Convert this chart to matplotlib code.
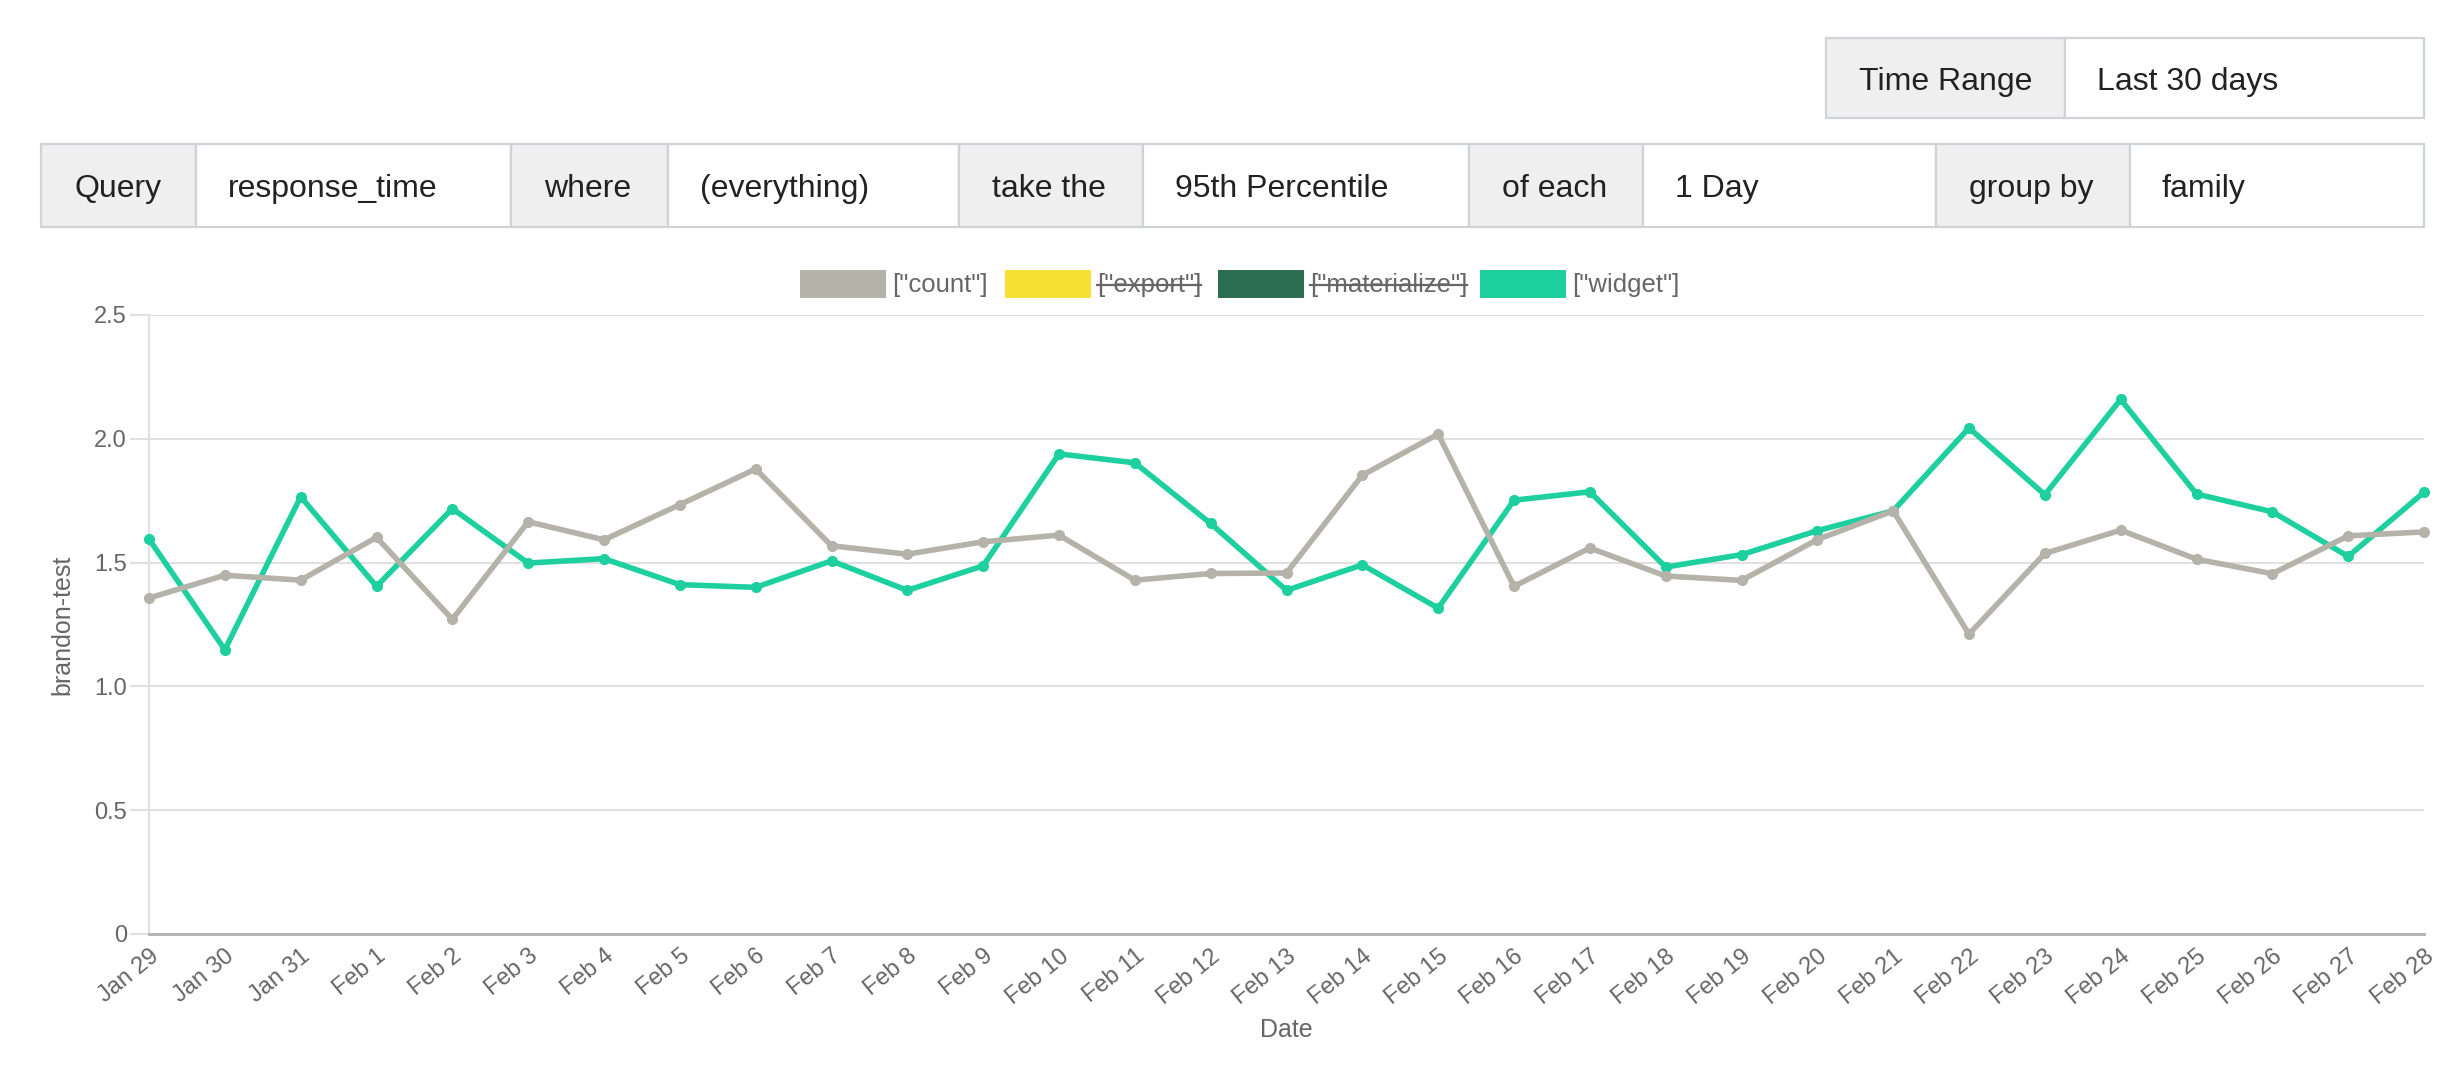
import matplotlib.pyplot as plt
from matplotlib.patches import Rectangle
from matplotlib.lines import Line2D

plt.rcParams['font.family'] = ['Liberation Sans', 'DejaVu Sans']

# --- data ---
dates = ['Jan 29', 'Jan 30', 'Jan 31', 'Feb 1', 'Feb 2', 'Feb 3', 'Feb 4', 'Feb 5',
         'Feb 6', 'Feb 7', 'Feb 8', 'Feb 9', 'Feb 10', 'Feb 11', 'Feb 12', 'Feb 13',
         'Feb 14', 'Feb 15', 'Feb 16', 'Feb 17', 'Feb 18', 'Feb 19', 'Feb 20', 'Feb 21',
         'Feb 22', 'Feb 23', 'Feb 24', 'Feb 25', 'Feb 26', 'Feb 27', 'Feb 28']
count = [1.357, 1.449, 1.429, 1.602, 1.271, 1.665, 1.592, 1.734, 1.878, 1.568, 1.534,
         1.584, 1.611, 1.429, 1.456, 1.458, 1.853, 2.019, 1.404, 1.559, 1.446, 1.428,
         1.593, 1.709, 1.211, 1.537, 1.631, 1.514, 1.455, 1.608, 1.624]
widget = [1.595, 1.148, 1.766, 1.404, 1.718, 1.498, 1.516, 1.411, 1.400, 1.507, 1.388,
          1.487, 1.939, 1.903, 1.658, 1.388, 1.491, 1.316, 1.752, 1.786, 1.482, 1.532,
          1.629, 1.709, 2.044, 1.774, 2.159, 1.777, 1.705, 1.525, 1.784]

series_names = ['["count"]', '["export"]', '["materialize"]', '["widget"]']
series_colors = ['#b5b2aa', '#f5e133', '#2b6e52', '#1ecf9f']
series_hidden = [False, True, True, False]

y_ticks = [0, 0.5, 1.0, 1.5, 2.0, 2.5]
y_tick_labels = ['0', '0.5', '1.0', '1.5', '2.0', '2.5']

query_labels = ['Query', 'where', 'take the', 'of each', 'group by']
query_values = ['response_time', '(everything)', '95th Percentile', '1 Day', 'family']

W, H = 2458, 1074
fig = plt.figure(figsize=(W / 100, H / 100), dpi=100)


def fx(x):
    return x / W


def fy(y):
    return 1 - y / H


def cell(x0, x1, y0, y1, fill):
    fig.patches.append(Rectangle((fx(x0), fy(y1)), fx(x1) - fx(x0), fy(y0) - fy(y1),
                                 transform=fig.transFigure, facecolor=fill,
                                 edgecolor='#cfd2d6', linewidth=1.6))


# --- control boxes ---
tr_edges = [1826, 2065, 2424]
cell(tr_edges[0], tr_edges[1], 38, 118, '#efefef')
cell(tr_edges[1], tr_edges[2], 38, 118, 'white')
fig.text(fx(tr_edges[0] + 33), fy(82), 'Time Range', fontsize=23, color='#222222', va='center')
fig.text(fx(tr_edges[1] + 32), fy(82), 'Last 30 days', fontsize=23, color='#222222', va='center')

q_edges = [41, 196, 511, 668, 959, 1143, 1469, 1643, 1936, 2130, 2424]
for i in range(len(query_labels)):
    a, b, c = q_edges[2 * i], q_edges[2 * i + 1], q_edges[2 * i + 2]
    cell(a, b, 144, 227, '#efefef')
    cell(b, c, 144, 227, 'white')
    fig.text(fx(a + 33), fy(189), query_labels[i], fontsize=23, color='#222222', va='center')
    fig.text(fx(b + 32), fy(189), query_values[i], fontsize=23, color='#222222', va='center')

# --- legend ---
sw_x = [800, 1005, 1218, 1480]
legend_texts = []
for i, name in enumerate(series_names):
    fig.patches.append(Rectangle((fx(sw_x[i]), fy(298)), fx(86), fy(270) - fy(298),
                                 transform=fig.transFigure, facecolor=series_colors[i],
                                 edgecolor='none'))
    t = fig.text(fx(sw_x[i] + 92), fy(285), name, fontsize=18.5, color='#666666', va='center')
    legend_texts.append(t)

# --- chart ---
ax = fig.add_axes([fx(149), fy(934), fx(2424) - fx(149), fy(315) - fy(934)])
x = list(range(len(dates)))
ax.plot(x, widget, color=series_colors[3], lw=4, marker='o', ms=7, clip_on=False, zorder=3)
ax.plot(x, count, color=series_colors[0], lw=4, marker='o', ms=7, clip_on=False, zorder=4)

ax.set_xlim(0, len(dates) - 1)
ax.set_ylim(0, 2.5)
ax.set_yticks(y_ticks)
ax.set_yticklabels(y_tick_labels)
ax.set_xticks(x)
ax.set_xticklabels(dates, rotation=39, ha='right', va='top', rotation_mode='anchor')
ax.grid(axis='y', color='#e0e0e0', lw=1.5)
ax.set_axisbelow(True)
for s in ['top', 'right']:
    ax.spines[s].set_visible(False)
ax.spines['left'].set_color('#e0e0e0')
ax.spines['left'].set_linewidth(1.5)
ax.spines['bottom'].set_color('#b0b0b0')
ax.spines['bottom'].set_linewidth(2)
ax.tick_params(axis='y', length=14, width=1.5, color='#e0e0e0', labelsize=17,
               labelcolor='#666666', pad=2)
ax.tick_params(axis='x', length=0, labelsize=17, labelcolor='#666666', pad=8)

ax.set_ylabel('brandon-test', fontsize=18, color='#666666', va='center')
ax.yaxis.set_label_coords(-0.038, 0.5)
ax.set_xlabel('Date', fontsize=18, color='#666666', va='center')
ax.xaxis.set_label_coords(0.5, -(1030 - 934) / (934 - 315))

# strike through hidden legend entries
fig.canvas.draw()
renderer = fig.canvas.get_renderer()
for t, hidden in zip(legend_texts, series_hidden):
    if hidden:
        bb = t.get_window_extent(renderer)
        yy = (bb.y0 + bb.y1) / 2 / H
        fig.lines.append(Line2D([bb.x0 / W, bb.x1 / W], [yy, yy], transform=fig.transFigure,
                                color='#666666', lw=1.6))

fig.savefig('out.png', dpi=100)
